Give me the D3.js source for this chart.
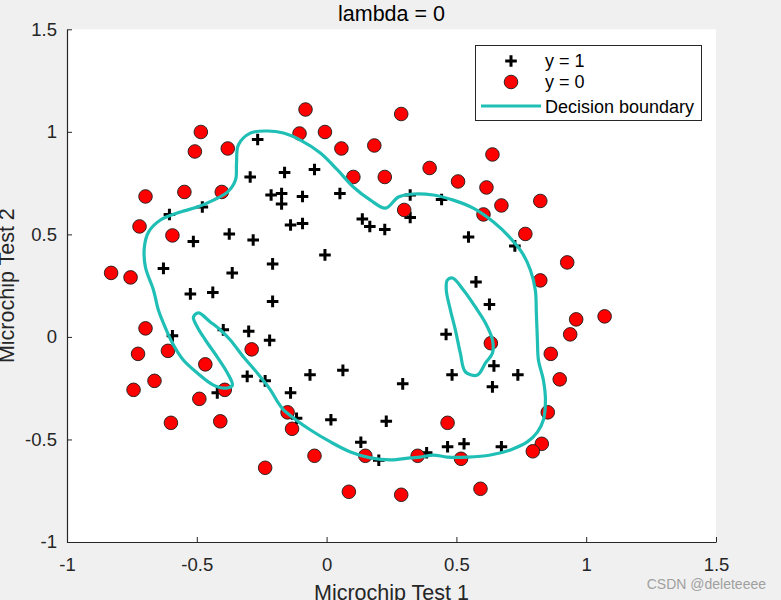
<!DOCTYPE html>
<html><head><meta charset="utf-8">
<script src="https://cdn.jsdelivr.net/npm/d3@7/dist/d3.min.js"></script>
<style>
html,body{margin:0;padding:0;background:#f0f0f0;}
svg{display:block;}
text{font-family:"Liberation Sans",Arial,Helvetica,sans-serif;fill:#262626;}
</style></head>
<body>
<script>
// Accepted (y = 1) microchips: [test1, test2]
const positives = [
[0.051267,0.69956],[-0.092742,0.68494],[-0.21371,0.69225],[-0.375,0.50219],[-0.51325,0.46564],
[-0.52477,0.2098],[-0.39804,0.034357],[-0.30588,-0.19225],[0.016705,-0.40424],[0.13191,-0.51389],
[0.38537,-0.56506],[0.52938,-0.5212],[0.63882,-0.24342],[0.73675,-0.18494],[0.54666,0.48757],
[0.322,0.5826],[0.16647,0.53874],[-0.046659,0.81652],[-0.17339,0.69956],[-0.47869,0.63377],
[-0.60541,0.59722],[-0.62846,0.33406],[-0.59389,0.005117],[-0.42108,-0.27266],[-0.11578,-0.39693],
[0.20104,-0.60161],[0.46601,-0.53582],[0.67339,-0.53582],[-0.13882,0.54605],[-0.29435,0.77997],
[-0.26555,0.96272],[-0.16187,0.8019],[-0.17339,0.64839],[-0.28283,0.47295],[-0.36348,0.31213],
[-0.30012,0.027047],[-0.23675,-0.21418],[-0.06394,-0.18494],[0.062788,-0.16301],[0.22984,-0.41155],
[0.2932,-0.2288],[0.48329,-0.18494],[0.64459,-0.14108],[0.46025,0.012427],[0.6273,0.15863],
[0.57546,0.26827],[0.72523,0.44371],[0.22408,0.52412],[0.44297,0.67032],[0.322,0.69225],
[0.13767,0.57529],[-0.0063364,0.39985],[-0.092742,0.55336],[-0.20795,0.35599],[-0.20795,0.17325],
[-0.43836,0.21711],[-0.21947,-0.016813],[-0.13882,-0.27266]
];
// Rejected (y = 0) microchips
const negatives = [
[0.18376,0.93348],[0.22408,0.77997],[0.29896,0.61915],[0.50634,0.75804],[0.61578,0.7288],
[0.60426,0.59722],[0.76555,0.50219],[0.92684,0.3633],[0.82316,0.27558],[0.96141,0.085526],
[0.93836,0.012427],[0.86348,-0.082602],[0.89804,-0.20687],[0.85196,-0.36769],[0.82892,-0.5212],
[0.79435,-0.55775],[0.59274,-0.7405],[0.51786,-0.5943],[0.46601,-0.41886],[0.35081,-0.57968],
[0.28744,-0.76974],[0.085829,-0.75512],[0.14919,-0.57968],[-0.13306,-0.4481],[-0.40956,-0.41155],
[-0.39228,-0.25804],[-0.74366,-0.25804],[-0.69758,0.041667],[-0.75518,0.2902],[-0.69758,0.68494],
[-0.4038,0.70687],[-0.38076,0.91886],[-0.50749,0.90424],[-0.54781,0.70687],[0.10311,0.77997],
[0.057028,0.91886],[-0.10426,0.99196],[-0.081221,1.1089],[0.28744,1.087],[0.39689,0.82383],
[0.63882,0.88962],[0.82316,0.66301],[0.67339,0.64108],[1.0709,0.10015],[-0.046659,-0.57968],
[-0.23675,-0.63816],[-0.15035,-0.36769],[-0.49021,-0.3019],[-0.46717,-0.13377],[-0.28859,-0.060673],
[-0.61118,-0.067982],[-0.66302,-0.21418],[-0.59965,-0.41886],[-0.72638,-0.082602],[-0.83007,0.31213],
[-0.72062,0.53874],[-0.59389,0.49488],[-0.48445,0.99927],[-0.0063364,0.99927],[0.63265,-0.030612]
];
// Decision boundary: outer loop and inner island
const boundaryOuter = [
[-0.228,1.004],[-0.166,0.994],[-0.101,0.960],[-0.024,0.897],[0.042,0.814],[0.103,0.731],[0.169,0.667],
[0.227,0.628],[0.277,0.682],[0.334,0.697],[0.411,0.692],[0.488,0.667],[0.565,0.628],[0.643,0.560],
[0.708,0.482],[0.754,0.409],[0.785,0.326],[0.804,0.229],[0.808,0.117],[0.812,-0.015],[0.816,-0.113],
[0.835,-0.210],[0.843,-0.308],[0.835,-0.405],[0.812,-0.464],[0.773,-0.512],[0.708,-0.551],[0.631,-0.576],
[0.542,-0.586],[0.465,-0.586],[0.411,-0.576],[0.361,-0.586],[0.323,-0.590],[0.246,-0.600],[0.169,-0.590],
[0.092,-0.561],[0.015,-0.512],[-0.062,-0.454],[-0.128,-0.395],[-0.166,-0.356],[-0.186,-0.322],
[-0.216,-0.259],[-0.267,-0.176],[-0.320,-0.098],[-0.371,-0.015],[-0.409,0.034],[-0.448,0.073],
[-0.494,0.117],[-0.513,0.097],[-0.498,0.048],[-0.467,-0.015],[-0.421,-0.098],[-0.382,-0.176],
[-0.363,-0.235],[-0.382,-0.249],[-0.436,-0.235],[-0.498,-0.176],[-0.552,-0.113],[-0.594,-0.030],
[-0.629,0.068],[-0.648,0.131],[-0.667,0.229],[-0.698,0.341],[-0.702,0.438],[-0.686,0.511],[-0.640,0.570],
[-0.575,0.604],[-0.498,0.633],[-0.436,0.667],[-0.382,0.706],[-0.351,0.765],[-0.347,0.848],[-0.340,0.936],
[-0.294,0.994]
];
const boundaryInner = [
[0.465,0.277],[0.485,0.287],[0.527,0.229],[0.573,0.146],[0.612,0.068],[0.639,-0.015],[0.639,-0.078],
[0.612,-0.127],[0.581,-0.186],[0.535,-0.171],[0.515,-0.078],[0.496,0.034],[0.477,0.131],[0.461,0.229]
];
const xTicks = [-1,-0.5,0,0.5,1,1.5];
const yTicks = [-1,-0.5,0,0.5,1,1.5];
const legendLabels = ["y = 1","y = 0","Decision boundary"];
const titleText = "lambda = 0";
const xLabel = "Microchip Test 1", yLabel = "Microchip Test 2";

const W = 781, H = 600;
const m = {l:67, t:29.3, r:65, b:58};
const iw = W - m.l - m.r, ih = H - m.t - m.b;
const x = d3.scaleLinear().domain([-1,1.5]).range([0, iw]);
const y = d3.scaleLinear().domain([-1,1.5]).range([ih, 0]);
const teal = "#1fbfb6";

const svg = d3.select("body").append("svg").attr("width",W).attr("height",H);
svg.append("rect").attr("width",W).attr("height",H).attr("fill","#f0f0f0");
const g = svg.append("g").attr("transform",`translate(${m.l},${m.t})`);
g.append("rect").attr("width",iw).attr("height",ih).attr("fill","#fff");

// axes
const fmt = d => String(d);
const xa = g.append("g").attr("transform",`translate(0,${ih})`)
  .call(d3.axisBottom(x).tickValues(xTicks).tickSizeInner(-5).tickSizeOuter(0).tickPadding(16).tickFormat(fmt));
const ya = g.append("g")
  .call(d3.axisLeft(y).tickValues(yTicks).tickSizeInner(-5).tickSizeOuter(0).tickPadding(10).tickFormat(fmt));
[xa,ya].forEach(a=>{
  a.select(".domain").attr("stroke","#262626").attr("stroke-width",1.2);
  a.selectAll(".tick line").attr("stroke","#262626").attr("stroke-width",1);
  a.selectAll(".tick text").attr("font-size",18.5).attr("fill","#262626")
   .style("font-family","'Liberation Sans',Arial,sans-serif");
});

// positives (+)
const plusPath = "M-5.8,0H5.8M0,-5.8V5.8";
g.append("g").selectAll("path").data(positives).join("path")
  .attr("transform",d=>`translate(${x(d[0])},${y(d[1])})`)
  .attr("d",plusPath).attr("stroke","#000").attr("stroke-width",3).attr("fill","none");
// negatives (o)
g.append("g").selectAll("circle").data(negatives).join("circle")
  .attr("cx",d=>x(d[0])).attr("cy",d=>y(d[1])).attr("r",6.8)
  .attr("fill","#ff0000").attr("stroke","#1a1a1a").attr("stroke-width",0.9);
// boundary
const line = d3.line().x(d=>x(d[0])).y(d=>y(d[1])).curve(d3.curveCatmullRomClosed.alpha(0.5));
[boundaryOuter,boundaryInner].forEach(b=>{
  g.append("path").attr("d",line(b)).attr("fill","none").attr("stroke",teal)
   .attr("stroke-width",3.2).attr("stroke-linejoin","round");
});

// legend
const lg = svg.append("g").attr("transform","translate(475,45)");
lg.append("rect").attr("x",0.5).attr("y",0.5).attr("width",226).attr("height",75)
  .attr("fill","#fff").attr("stroke","#262626").attr("stroke-width",1);
lg.append("path").attr("transform","translate(36,16)").attr("d",plusPath)
  .attr("stroke","#000").attr("stroke-width",3);
lg.append("circle").attr("cx",36).attr("cy",37).attr("r",6.8)
  .attr("fill","#ff0000").attr("stroke","#1a1a1a").attr("stroke-width",0.9);
lg.append("line").attr("x1",6).attr("x2",66).attr("y1",61).attr("y2",61)
  .attr("stroke",teal).attr("stroke-width",3.2);
lg.selectAll("text.lab").data(legendLabels).join("text").attr("class","lab")
  .attr("x",70).attr("y",(d,i)=>[16,37,62][i]).attr("dy","0.35em").attr("font-size",18).style("fill","#000").text(d=>d);

// title and labels
svg.append("text").attr("x",m.l+iw/2).attr("y",21).attr("text-anchor","middle")
  .attr("font-size",21.5).style("fill","#000").text(titleText);
svg.append("text").attr("x",m.l+iw/2).attr("y",600).attr("text-anchor","middle")
  .attr("font-size",21.5).text(xLabel);
svg.append("text").attr("transform",`translate(14,${m.t+ih/2}) rotate(-90)`).attr("text-anchor","middle")
  .attr("font-size",21.5).text(yLabel);
// watermark
svg.append("text").attr("x",766).attr("y",589).attr("text-anchor","end")
  .attr("font-size",14).style("fill","#a0a0a0").text("CSDN @deleteeee");
</script>
</body></html>
